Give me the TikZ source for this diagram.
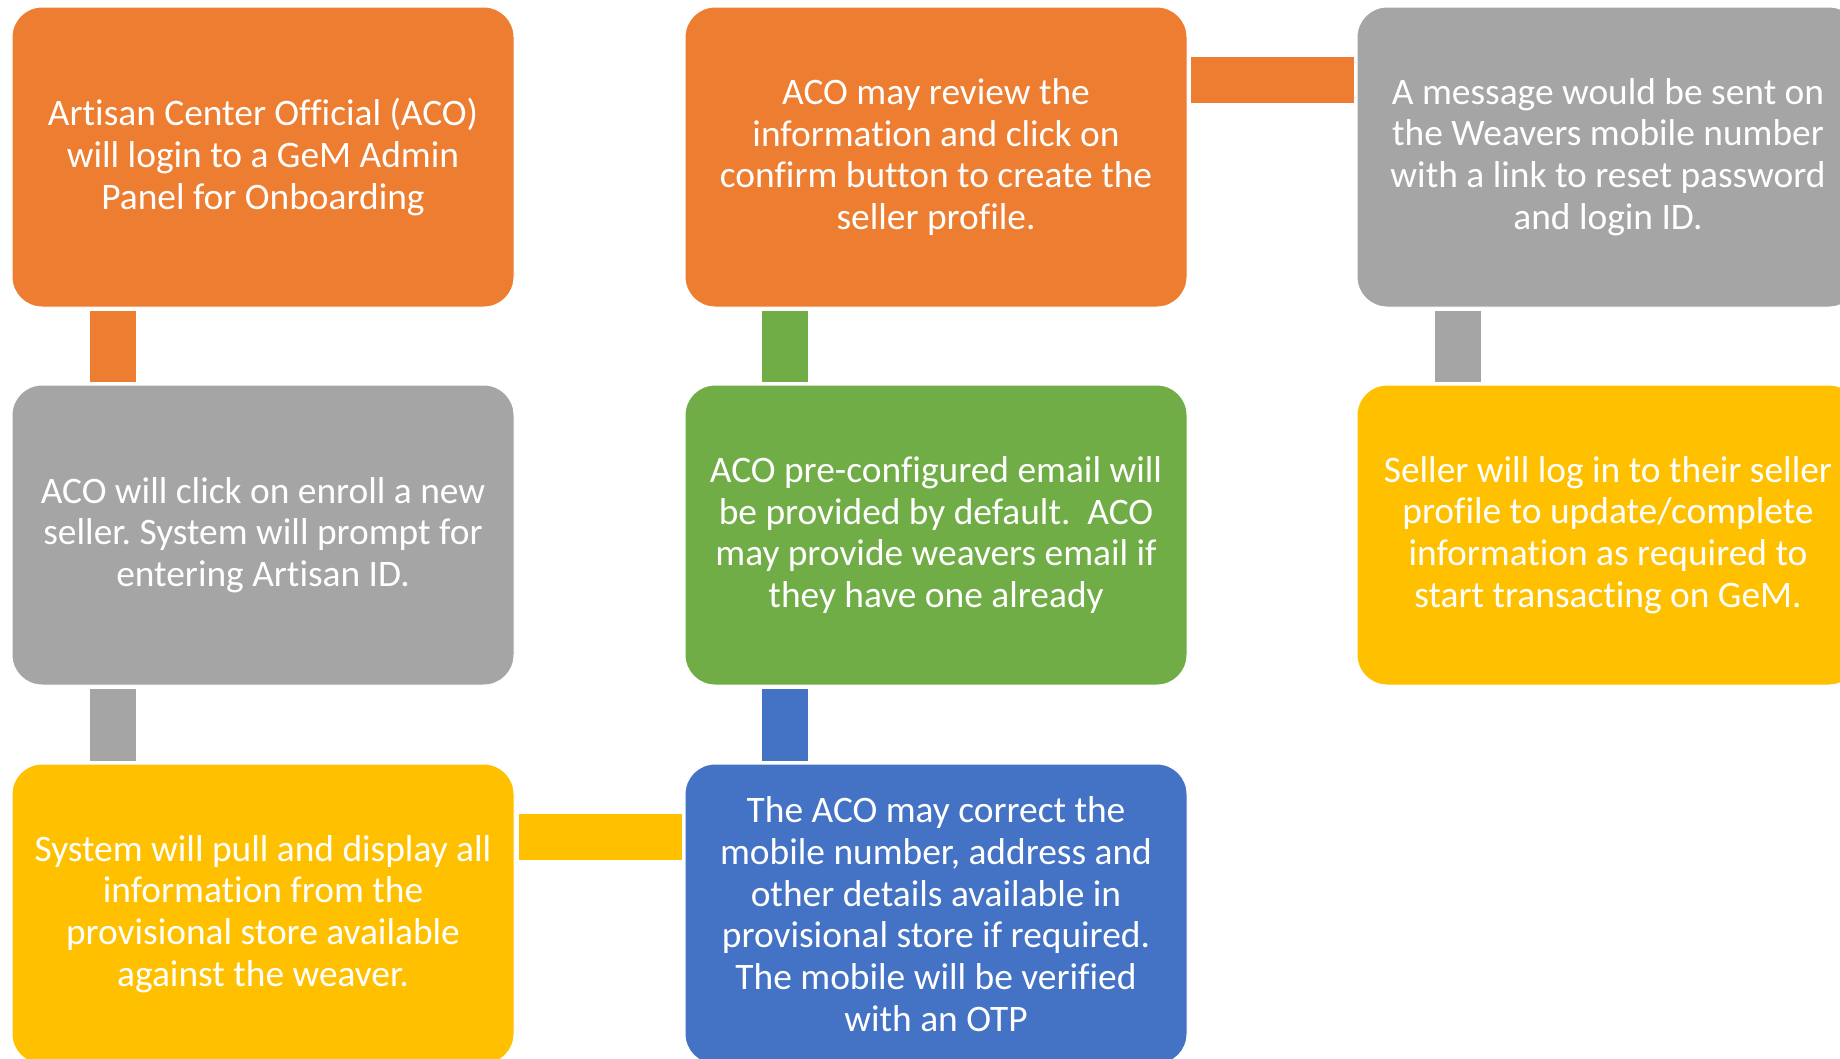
\documentclass[tikz,border=0pt]{standalone}
\usepackage{fontspec}
\setmainfont{Carlito}[Ligatures={NoCommon}]
\frenchspacing
\definecolor{cOrange}{HTML}{ED7D31}
\definecolor{cGray}{HTML}{A5A5A5}
\definecolor{cYellow}{HTML}{FFC000}
\definecolor{cGreen}{HTML}{70AD47}
\definecolor{cBlue}{HTML}{4472C4}
\tikzset{
  box/.style={rounded corners=30pt, draw=white, line width=1pt, minimum width=502pt, minimum height=300pt,
    inner sep=4pt, align=center, text=white, font=\fontsize{37.4}{41.7}\selectfont},
  link/.style={line width=46pt}
}
\begin{document}
\begin{tikzpicture}[x=1pt,y=-1pt]
\useasboundingbox (0,0) rectangle (1840,1058);
\clip (0,0) rectangle (1840,1058);
\node[box, fill=cOrange] (b1) at (263,157) {Artisan Center Official (ACO)\\ will login to a GeM Admin\\ Panel for Onboarding};
\node[box, fill=cOrange] (b2) at (936,157) {ACO may review the\\ information and click on\\ confirm button to create the\\ seller profile.};
\node[box, fill=cGray] (b3) at (1608,157) {A message would be sent on\\ the Weavers mobile number\\ with a link to reset password\\ and login ID.};
\node[box, fill=cGray] (b4) at (263,535) {ACO will click on enroll a new\\ seller. System will prompt for\\ entering Artisan ID.};
\node[box, fill=cGreen] (b5) at (936,535) {ACO pre-configured email will\\ be provided by default.\ \ ACO\\ may provide weavers email if\\ they have one already};
\node[box, fill=cYellow] (b6) at (1608,535) {Seller will log in to their seller\\ profile to update/complete\\ information as required to\\ start transacting on GeM.};
\node[box, fill=cYellow] (b7) at (263,914) {System will pull and display all\\ information from the\\ provisional store available\\ against the weaver.};
\node[box, fill=cBlue] (b8) at (936,914) {The ACO may correct the\\ mobile number, address and\\ other details available in\\ provisional store if required.\\ The mobile will be verified\\ with an OTP};
% connectors
\draw[link, cOrange] ([xshift=101pt,yshift=-3pt]b1.south west) -- ([xshift=101pt,yshift=3pt]b4.north west);
\draw[link, cGray] ([xshift=101pt,yshift=-3pt]b4.south west) -- ([xshift=101pt,yshift=3pt]b7.north west);
\draw[link, cYellow] ([xshift=4pt,yshift=-73pt]b7.north east) -- ([xshift=-3pt,yshift=-73pt]b8.north west);
\draw[link, cBlue] ([xshift=100pt,yshift=3pt]b8.north west) -- ([xshift=100pt,yshift=-3pt]b5.south west);
\draw[link, cGreen] ([xshift=100pt,yshift=3pt]b5.north west) -- ([xshift=100pt,yshift=-3pt]b2.south west);
\draw[link, cOrange] ([xshift=3pt,yshift=-73pt]b2.north east) -- ([xshift=-3pt,yshift=-73pt]b3.north west);
\draw[link, cGray] ([xshift=101pt,yshift=-3pt]b3.south west) -- ([xshift=101pt,yshift=3pt]b6.north west);
\end{tikzpicture}
\end{document}
